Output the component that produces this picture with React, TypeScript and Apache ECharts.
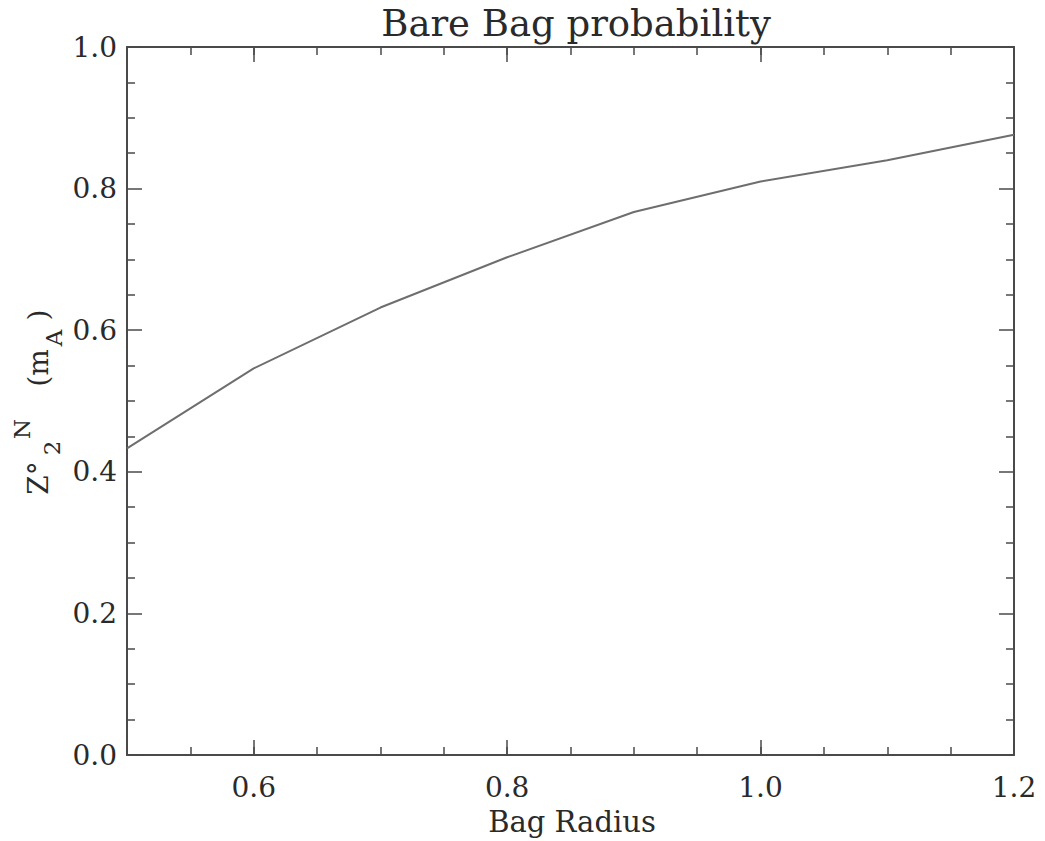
import React, { useEffect, useRef } from "react";
import * as echarts from "echarts";

const bagRadius = [0.5, 0.6, 0.7, 0.8, 0.9, 1.0, 1.1, 1.2];
const probability = [0.433, 0.546, 0.632, 0.703, 0.767, 0.81, 0.84, 0.876];
const xLabelValues = [0.6, 0.8, 1.0, 1.2];
const xMajorTicks = [0.6, 0.8, 1.0];
const titleText = "Bare Bag probability";
const xName = "Bag Radius";

const FONT = "'DejaVu Serif', 'Liberation Serif', serif";
const AXIS = "#4a4a4a";
const TEXT = "#2a2a2a";

export default function App() {
  const ref = useRef<HTMLDivElement>(null);
  useEffect(() => {
    document.body.style.margin = "0";
    if (!ref.current) return;
    const chart = echarts.init(ref.current, null, { renderer: "svg" });
    const baseX = {
      type: "value" as const,
      min: 0.5,
      max: 1.2,
      gridIndex: 0,
      splitLine: { show: false },
    };
    const baseY = {
      type: "value" as const,
      min: 0,
      max: 1,
      interval: 0.2,
      splitLine: { show: false },
      axisLine: { show: true, onZero: false, lineStyle: { color: AXIS, width: 2 } },
      axisTick: { show: true, inside: true, length: 15, lineStyle: { color: AXIS, width: 1.5 } },
      minorTick: { show: true, splitNumber: 4, length: 8, lineStyle: { color: AXIS, width: 1.5 } },
    };
    const option: any = {
      animation: false,
      backgroundColor: "#ffffff",
      grid: { left: 127, right: 31, top: 47, bottom: 86, containLabel: false },
      xAxis: [
        {
          ...baseX,
          position: "bottom",
          interval: 0.05,
          axisLine: { show: true, onZero: false, lineStyle: { color: AXIS, width: 2 } },
          axisTick: { show: true, inside: true, length: 8, lineStyle: { color: AXIS, width: 1.5 } },
          axisLabel: {
            show: true,
            customValues: xLabelValues,
            formatter: (v: number) => v.toFixed(1),
            margin: 18,
            fontFamily: FONT,
            fontSize: 28,
            color: TEXT,
          },
        },
        {
          ...baseX,
          position: "bottom",
          interval: 0.05,
          axisLine: { show: false, onZero: false },
          axisTick: { show: true, inside: true, length: 15, customValues: xMajorTicks, lineStyle: { color: AXIS, width: 1.5 } },
          axisLabel: { show: false },
        },
        {
          ...baseX,
          position: "top",
          interval: 0.05,
          axisLine: { show: true, onZero: false, lineStyle: { color: AXIS, width: 2 } },
          axisTick: { show: true, inside: true, length: 8, lineStyle: { color: AXIS, width: 1.5 } },
          axisLabel: { show: false },
        },
        {
          ...baseX,
          position: "top",
          interval: 0.05,
          axisLine: { show: false, onZero: false },
          axisTick: { show: true, inside: true, length: 15, customValues: xMajorTicks, lineStyle: { color: AXIS, width: 1.5 } },
          axisLabel: { show: false },
        },
      ],
      yAxis: [
        {
          ...baseY,
          position: "left",
          axisLabel: {
            show: true,
            formatter: (v: number) => v.toFixed(1),
            margin: 10,
            fontFamily: FONT,
            fontSize: 28,
            color: TEXT,
          },
        },
        {
          ...baseY,
          position: "right",
          axisLabel: { show: false },
        },
      ],
      graphic: [
        {
          type: "text",
          x: 576,
          y: 23,
          style: { text: titleText, font: `37px ${FONT}`, fill: TEXT, textAlign: "center", textVerticalAlign: "middle" },
        },
        {
          type: "text",
          x: 572,
          y: 822,
          style: { text: xName, font: `29px ${FONT}`, fill: TEXT, textAlign: "center", textVerticalAlign: "middle" },
        },
        { type: "text", x: 38, y: 478, rotation: Math.PI / 2, style: { text: "Z°", font: `28px ${FONT}`, fill: TEXT, textAlign: "center", textVerticalAlign: "middle" } },
        { type: "text", x: 52, y: 448, rotation: Math.PI / 2, style: { text: "2", font: `23px ${FONT}`, fill: TEXT, textAlign: "center", textVerticalAlign: "middle" } },
        { type: "text", x: 22, y: 429, rotation: Math.PI / 2, style: { text: "N", font: `23px ${FONT}`, fill: TEXT, textAlign: "center", textVerticalAlign: "middle" } },
        { type: "text", x: 38, y: 368, rotation: Math.PI / 2, style: { text: "(m", font: `28px ${FONT}`, fill: TEXT, textAlign: "center", textVerticalAlign: "middle" } },
        { type: "text", x: 54, y: 338, rotation: Math.PI / 2, style: { text: "A", font: `23px ${FONT}`, fill: TEXT, textAlign: "center", textVerticalAlign: "middle" } },
        { type: "text", x: 38, y: 315, rotation: Math.PI / 2, style: { text: ")", font: `28px ${FONT}`, fill: TEXT, textAlign: "center", textVerticalAlign: "middle" } },
      ],
      series: [
        {
          type: "line",
          xAxisIndex: 0,
          yAxisIndex: 0,
          data: bagRadius.map((x, i) => [x, probability[i]]),
          showSymbol: false,
          symbol: "none",
          lineStyle: { color: "#6e6e6e", width: 2 },
        },
      ],
    };
    chart.setOption(option);
    return () => chart.dispose();
  }, []);
  return <div ref={ref} style={{ width: 1045, height: 841 }} />;
}
